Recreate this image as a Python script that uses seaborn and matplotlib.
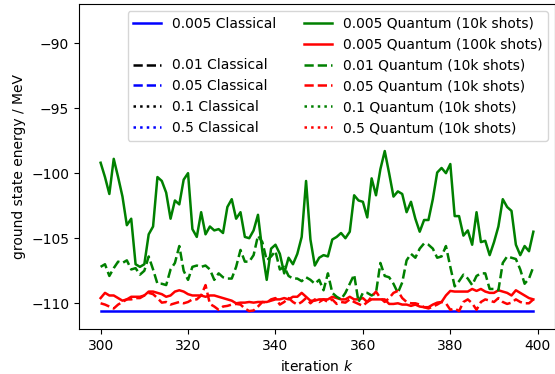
import numpy as np
import pandas as pd
import matplotlib
matplotlib.use("Agg")
import matplotlib.pyplot as plt
from matplotlib.lines import Line2D
import seaborn as sns

iterations = list(range(300, 400))

classical_0005 = [-110.56] * 100

quantum_0005_10k = [
    -99.2, -100.3, -101.6, -98.9, -100.3, -101.8, -104.0, -103.5, -107.0, -107.2,
    -107.0, -104.7, -104.1, -100.3, -100.6, -101.5, -103.5, -102.1, -102.4, -100.5,
    -100.0, -104.3, -104.9, -103.0, -104.7, -104.1, -104.4, -104.3, -104.6, -102.6,
    -102.0, -103.5, -103.0, -104.9, -105.0, -104.4, -103.2, -106.0, -108.2, -105.8,
    -105.5, -106.2, -107.7, -106.5, -107.0, -106.2, -104.9, -100.6, -105.1, -107.1,
    -106.5, -106.3, -106.4, -105.1, -104.9, -104.6, -105.0, -104.5, -101.7, -102.1,
    -102.2, -103.4, -100.4, -101.7, -99.7, -98.3, -100.0, -101.8, -101.4, -101.6,
    -103.0, -102.2, -103.5, -104.5, -103.6, -103.6, -102.0, -99.95, -99.6, -100.0,
    -99.3, -103.3, -103.3, -104.8, -104.4, -105.5, -103.0, -105.3, -105.2, -106.3,
    -105.3, -104.1, -102.0, -102.6, -102.9, -105.5, -106.3, -105.6, -106.0, -104.5,
]

quantum_0005_100k = [
    -109.6, -109.2, -109.4, -109.4, -109.6, -109.8, -109.7, -109.5, -109.5, -109.5,
    -109.4, -109.1, -109.1, -109.2, -109.3, -109.5, -109.4, -109.1, -109.0, -109.1,
    -109.3, -109.4, -109.4, -109.4, -109.5, -109.4, -109.4, -109.5, -109.6, -109.7,
    -109.8, -110.0, -109.95, -109.95, -109.9, -109.95, -109.9, -109.9, -109.9, -109.8,
    -109.7, -109.7, -109.6, -109.7, -109.5, -109.5, -109.2, -109.5, -109.8, -109.8,
    -109.7, -109.7, -109.7, -109.5, -109.6, -109.7, -109.7, -109.5, -109.7, -109.7,
    -109.6, -109.9, -109.7, -109.7, -109.7, -109.7, -110.05, -110.05, -110.0, -110.1,
    -110.1, -110.2, -110.1, -110.25, -110.3, -110.3, -110.1, -109.95, -109.9, -109.4,
    -109.05, -109.1, -109.1, -109.1, -109.1, -108.9, -109.05, -108.9, -109.1, -109.2,
    -109.2, -109.0, -109.1, -109.2, -109.4, -109.0, -109.2, -109.4, -109.6, -109.7,
]

quantum_001_10k = [
    -107.2, -107.0, -107.9, -107.3, -106.8, -106.9, -106.7, -107.4, -107.3, -107.8,
    -107.5, -106.4, -107.4, -108.5, -108.5, -108.6, -107.4, -106.9, -105.6, -107.5,
    -108.2, -107.2, -107.1, -107.2, -107.1, -107.4, -108.2, -107.7, -108.0, -108.1,
    -108.1, -107.2, -105.9, -106.8, -106.8, -106.3, -104.8, -105.3, -106.7, -106.4,
    -106.0, -107.4, -107.2, -107.9, -108.1, -108.1, -108.3, -108.0, -108.2, -108.5,
    -108.2, -109.0, -107.7, -109.2, -109.5, -109.7, -109.2, -108.5, -107.8, -109.9,
    -109.2, -109.2, -109.4, -109.2, -106.9, -107.9, -108.0, -108.5, -109.2, -108.4,
    -106.7, -106.2, -106.5, -105.8, -105.4, -105.5, -105.8, -106.5, -106.4, -105.6,
    -107.2, -108.7, -108.3, -107.8, -108.1, -108.6, -107.9, -107.7, -107.7, -108.9,
    -108.9, -109.0, -106.9, -106.4, -106.5, -106.6, -107.4, -108.5, -108.1, -107.2,
]

quantum_005_10k = [
    -110.0, -110.1, -110.25, -110.4, -110.1, -109.9, -109.7, -109.7, -109.6, -109.6,
    -109.4, -109.2, -109.3, -109.6, -109.95, -109.9, -110.1, -110.0, -109.9, -110.0,
    -109.9, -109.7, -109.7, -109.4, -108.6, -110.05, -110.25, -110.5, -110.25, -110.2,
    -110.1, -110.05, -110.1, -110.4, -110.6, -110.55, -110.25, -109.9, -109.95, -109.7,
    -109.6, -110.1, -109.9, -109.6, -109.9, -110.1, -109.9, -109.6, -110.0, -109.7,
    -109.9, -109.7, -109.9, -109.7, -110.05, -109.9, -109.95, -109.7, -109.9, -110.05,
    -110.2, -109.9, -109.5, -109.1, -109.6, -109.9, -109.6, -109.2, -109.05, -109.6,
    -109.9, -110.0, -110.0, -110.1, -110.3, -110.4, -110.25, -110.1, -109.9, -110.0,
    -110.5, -110.4, -110.6, -109.9, -109.7, -110.0, -110.5, -109.9, -109.7, -109.8,
    -109.9, -109.6, -109.9, -110.05, -109.95, -109.7, -109.9, -110.0, -110.0, -109.7,
]

df = pd.DataFrame({
    "k": iterations,
    "c0005": classical_0005,
    "q0005_10k": quantum_0005_10k,
    "q0005_100k": quantum_0005_100k,
    "q001": quantum_001_10k,
    "q005": quantum_005_10k,
})

plt.rcParams["font.family"] = ["DejaVu Sans"]
plt.rcParams["font.size"] = 10

LW = 1.8

fig = plt.figure(figsize=(5.55, 3.74), dpi=100)
ax = fig.add_axes([0.1423, 0.1195, 0.8577, 0.8698])

sns.lineplot(data=df, x="k", y="c0005", ax=ax, color="blue", linewidth=LW)
sns.lineplot(data=df, x="k", y="q0005_10k", ax=ax, color="green", linewidth=LW)
sns.lineplot(data=df, x="k", y="q0005_100k", ax=ax, color="red", linewidth=LW)
sns.lineplot(data=df, x="k", y="q001", ax=ax, color="green", linewidth=LW, linestyle="--")
sns.lineplot(data=df, x="k", y="q005", ax=ax, color="red", linewidth=LW, linestyle="--")

ax.set_ylim(-112, -87)
ax.set_xticks([300, 320, 340, 360, 380, 400])
ax.set_yticks([-110, -105, -100, -95, -90])
ax.set_xlabel("iteration $k$")
ax.set_ylabel("ground state energy / MeV")

def h(color, ls):
    return Line2D([], [], color=color, linestyle=ls, linewidth=LW)

handles = [
    h("blue", "-"), Line2D([], [], linestyle="none"), h("black", "--"), h("blue", "--"),
    h("black", ":"), h("blue", ":"),
    h("green", "-"), h("red", "-"), h("green", "--"), h("red", "--"),
    h("green", ":"), h("red", ":"),
]
labels = [
    "0.005 Classical", "", "0.01 Classical", "0.05 Classical", "0.1 Classical", "0.5 Classical",
    "0.005 Quantum (10k shots)", "0.005 Quantum (100k shots)", "0.01 Quantum (10k shots)",
    "0.05 Quantum (10k shots)", "0.1 Quantum (10k shots)", "0.5 Quantum (10k shots)",
]
ax.legend(handles, labels, ncol=2, loc="upper right", fontsize=10)

fig.savefig("out.png", dpi=100)
